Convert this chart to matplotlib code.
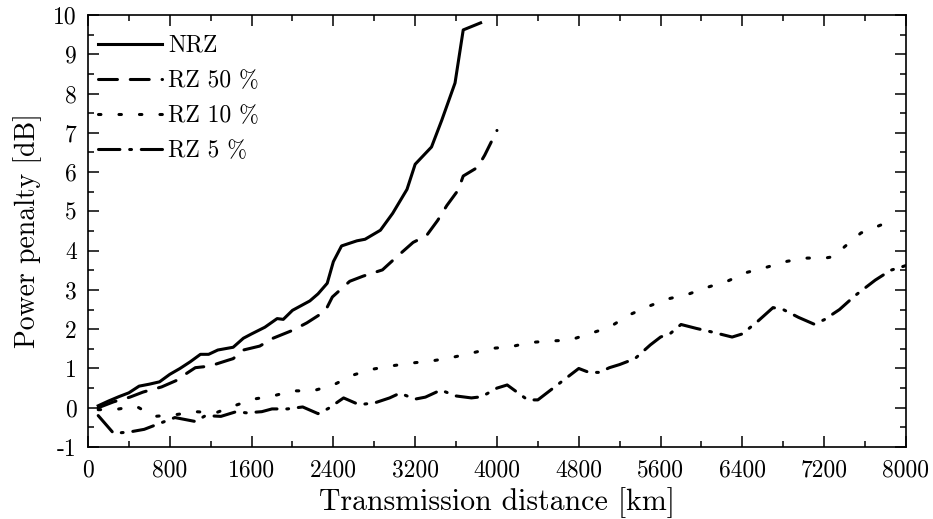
import matplotlib
matplotlib.use("Agg")
import matplotlib.pyplot as plt
from matplotlib.ticker import MultipleLocator

plt.rcParams['font.family'] = 'serif'
plt.rcParams['font.serif'] = ['cmr10']
plt.rcParams['mathtext.fontset'] = 'cm'
plt.rcParams['axes.formatter.use_mathtext'] = False
plt.rcParams['axes.unicode_minus'] = False

# Penalidad de potencia [dB] frente a distancia [km]
nrz_km = [100, 200, 300, 400, 500, 600, 700, 800, 900, 1000, 1100, 1180, 1270,
          1420, 1520, 1600, 1730, 1850, 1910, 2000, 2170, 2250, 2340, 2400,
          2480, 2630, 2710, 2860, 2980, 3120, 3200, 3360, 3460, 3590, 3670, 3840]
nrz_db = [0.05, 0.17, 0.28, 0.38, 0.55, 0.6, 0.66, 0.85, 1.0, 1.17, 1.36, 1.36, 1.47,
          1.54, 1.77, 1.88, 2.05, 2.27, 2.25, 2.48, 2.72, 2.9, 3.17, 3.72,
          4.12, 4.25, 4.29, 4.52, 4.95, 5.56, 6.2, 6.64, 7.32, 8.27, 9.62, 9.8]

rz50_km = [100, 250, 410, 540, 720, 870, 950, 1050, 1190, 1370, 1420, 1520, 1680,
           1810, 2000, 2140, 2320, 2390, 2560, 2690, 2880, 3010, 3180, 3310,
           3420, 3510, 3620, 3670, 3810, 3880, 4000]
rz50_db = [0.0, 0.15, 0.27, 0.4, 0.53, 0.7, 0.85, 1.02, 1.06, 1.21, 1.25, 1.47, 1.57,
           1.77, 1.97, 2.16, 2.46, 2.82, 3.22, 3.35, 3.51, 3.82, 4.21, 4.38,
           4.77, 5.15, 5.54, 5.9, 6.12, 6.43, 7.06]

rz10_km = [100, 280, 470, 650, 850, 1050, 1250, 1420, 1620, 1810, 2000, 2200,
           2400, 2590, 2780, 2980, 3170, 3360, 3560, 3750, 3940, 4130, 4320,
           4520, 4710, 4900, 5100, 5290, 5490, 5670, 5870, 6050, 6260, 6450,
           6640, 6840, 7030, 7230, 7300, 7400, 7560, 7800]
rz10_db = [-0.05, -0.04, 0.04, -0.22, -0.18, -0.1, -0.13, 0.04, 0.22, 0.3, 0.43, 0.43,
           0.58, 0.83, 0.98, 1.07, 1.14, 1.19, 1.28, 1.39, 1.51, 1.55, 1.66,
           1.7, 1.72, 1.88, 2.05, 2.36, 2.59, 2.77, 2.89, 3.06, 3.23, 3.45,
           3.58, 3.73, 3.81, 3.82, 3.85, 4.1, 4.45, 4.7]

rz5_km = [100, 250, 400, 550, 700, 850, 950, 1050, 1150, 1300, 1450, 1550, 1700,
          1800, 1950, 2100, 2250, 2350, 2500, 2650, 2800, 2950, 3050, 3200, 3300,
          3450, 3600, 3750, 3850, 4000, 4100, 4300, 4400, 4550, 4700, 4800, 4900,
          5000, 5100, 5200, 5350, 5500, 5600, 5700, 5800, 5950, 6100, 6300, 6400,
          6550, 6700, 6800, 6950, 7100, 7200, 7350, 7500, 7600, 7700, 7850, 8000]
rz5_db = [-0.2, -0.65, -0.62, -0.55, -0.4, -0.25, -0.3, -0.35, -0.2, -0.22, -0.1, -0.13, -0.1,
          -0.03, -0.03, 0.02, -0.15, -0.02, 0.25, 0.08, 0.12, 0.25, 0.37, 0.22, 0.27,
          0.45, 0.3, 0.25, 0.28, 0.5, 0.58, 0.2, 0.2, 0.5, 0.8, 1.0, 0.9,
          0.9, 1.02, 1.1, 1.25, 1.6, 1.8, 1.9, 2.12, 2.02, 1.93, 1.8, 1.88,
          2.2, 2.55, 2.5, 2.3, 2.13, 2.24, 2.5, 2.85, 3.05, 3.25, 3.5, 3.62]

fig = plt.figure(figsize=(9.33, 5.19), dpi=100)
ax = fig.add_axes([0.0943, 0.1387, 0.8767, 0.8324])

lw = 2.2
ax.plot(nrz_km, nrz_db, color='black', lw=lw, solid_joinstyle='round', label='NRZ')
ax.plot(rz50_km, rz50_db, color='black', lw=lw, dashes=(6.2, 4.2),
        dash_capstyle='round', label='RZ 50 %')
ax.plot(rz10_km, rz10_db, color='black', lw=lw, dashes=(0.8, 5.9),
        dash_capstyle='round', label='RZ 10 %')
ax.plot(rz5_km, rz5_db, color='black', lw=lw, dashes=(7.0, 3.2, 0.6, 3.2),
        dash_capstyle='round', label='RZ 5 %')

ax.set_xlim(0, 8000)
ax.set_ylim(-1, 10)
ax.xaxis.set_major_locator(MultipleLocator(800))
ax.xaxis.set_minor_locator(MultipleLocator(400))
ax.yaxis.set_major_locator(MultipleLocator(1))
ax.yaxis.set_minor_locator(MultipleLocator(0.5))
ax.tick_params(which='both', direction='in', top=True, right=True, width=1.1,
               labelsize=17)
ax.tick_params(which='major', length=8)
ax.tick_params(axis='x', which='major', pad=9)
ax.tick_params(axis='y', which='major', pad=8)
ax.tick_params(which='minor', length=4)
for s in ax.spines.values():
    s.set_linewidth(1.2)

ax.set_xlabel('Transmission distance [km]', fontsize=21.5, labelpad=4)
ax.set_ylabel('Power penalty [dB]', fontsize=20, labelpad=8)

ax.legend(loc='upper left', bbox_to_anchor=(-0.009, 0.995), frameon=False,
          fontsize=17, handlelength=2.7, handletextpad=0.25, labelspacing=0.55,
          borderaxespad=0.55, borderpad=0.2)

fig.savefig('out.png', dpi=100)
